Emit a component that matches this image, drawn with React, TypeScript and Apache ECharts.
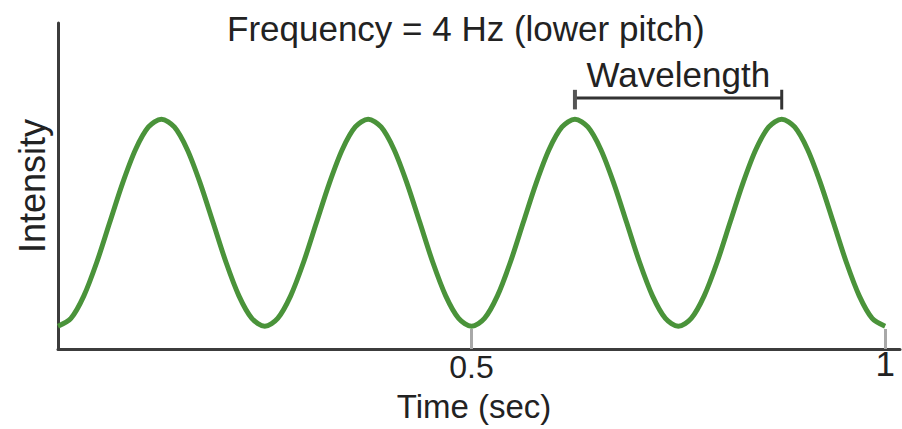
import React, { useEffect, useRef } from "react";
import * as echarts from "echarts";

const FONT = "'Liberation Sans', Arial, sans-serif";

const titleText = "Frequency = 4 Hz (lower pitch)";
const xAxisName = "Time (sec)";
const yAxisName = "Intensity";
const annotationText = "Wavelength";

const times = [
  0, 0.015625, 0.03125, 0.046875, 0.0625, 0.078125, 0.09375, 0.109375,
  0.125, 0.140625, 0.15625, 0.171875, 0.1875, 0.203125, 0.21875, 0.234375,
  0.25, 0.265625, 0.28125, 0.296875, 0.3125, 0.328125, 0.34375, 0.359375,
  0.375, 0.390625, 0.40625, 0.421875, 0.4375, 0.453125, 0.46875, 0.484375,
  0.5, 0.515625, 0.53125, 0.546875, 0.5625, 0.578125, 0.59375, 0.609375,
  0.625, 0.640625, 0.65625, 0.671875, 0.6875, 0.703125, 0.71875, 0.734375,
  0.75, 0.765625, 0.78125, 0.796875, 0.8125, 0.828125, 0.84375, 0.859375,
  0.875, 0.890625, 0.90625, 0.921875, 0.9375, 0.953125, 0.96875, 0.984375,
  1,
];
const intensity = [
  7, 9.4, 16.3, 26.6, 38.8, 50.9, 61.2, 68.1,
  70.5, 68.1, 61.2, 50.9, 38.8, 26.6, 16.3, 9.4,
  7, 9.4, 16.3, 26.6, 38.8, 50.9, 61.2, 68.1,
  70.5, 68.1, 61.2, 50.9, 38.8, 26.6, 16.3, 9.4,
  7, 9.4, 16.3, 26.6, 38.8, 50.9, 61.2, 68.1,
  70.5, 68.1, 61.2, 50.9, 38.8, 26.6, 16.3, 9.4,
  7, 9.4, 16.3, 26.6, 38.8, 50.9, 61.2, 68.1,
  70.5, 68.1, 61.2, 50.9, 38.8, 26.6, 16.3, 9.4,
  7,
];

const xTickValues = [0.5, 1];
const wavelengthStart = 0.625;
const wavelengthEnd = 0.875;
const bracketLevel = 77;
const bracketTop = 79.5;
const bracketBottom = 73.5;

export default function App() {
  const ref = useRef<HTMLDivElement>(null);
  useEffect(() => {
    if (!ref.current) return;
    const chart = echarts.init(ref.current, null, { renderer: "svg" });
    const waveData = times.map((t, i) => [t, intensity[i]]);
    const bracketColor = "#333";
    chart.setOption({
      animation: false,
      backgroundColor: "#ffffff",
      title: {
        text: titleText,
        left: 222,
        top: 6,
        textStyle: { fontSize: 35, fontWeight: "normal", color: "#222", fontFamily: FONT },
      },
      grid: { left: 58, top: 23, right: 2, bottom: 80, containLabel: false, outerBoundsMode: "none" },
      xAxis: {
        type: "value",
        min: 0,
        max: 1.018,
        name: xAxisName,
        nameLocation: "middle",
        nameGap: 42,
        nameMoveOverlap: false,
        nameTextStyle: {
          fontSize: 33,
          lineHeight: 30,
          color: "#222",
          fontFamily: FONT,
          padding: [0, 10, 0, 0],
        },
        axisLine: { show: true, onZero: false, lineStyle: { color: "#3c3c3c", width: 3 } },
        axisTick: {
          show: true,
          inside: true,
          length: 20,
          customValues: xTickValues,
          lineStyle: { color: "#a8a8a8", width: 3 },
        },
        axisLabel: {
          show: true,
          customValues: xTickValues,
          margin: 5,
          formatter: (v: number) => (v === 1 ? "{one|1}" : "{half|0.5}"),
          rich: {
            half: { fontSize: 32, lineHeight: 26, color: "#222", fontFamily: FONT },
            one: { fontSize: 35, lineHeight: 18, color: "#222", fontFamily: FONT },
          },
        },
        splitLine: { show: false },
      },
      yAxis: {
        type: "value",
        min: 0,
        max: 100,
        name: yAxisName,
        nameLocation: "middle",
        nameGap: 8,
        nameMoveOverlap: false,
        nameTextStyle: { fontSize: 36, color: "#222", fontFamily: FONT },
        axisLine: { show: true, lineStyle: { color: "#3c3c3c", width: 3 } },
        axisTick: { show: false },
        axisLabel: { show: false },
        splitLine: { show: false },
      },
      series: [
        {
          type: "line",
          data: waveData,
          smooth: 0.3,
          showSymbol: false,
          lineStyle: { color: "#4a933a", width: 5 },
          z: 3,
        },
        {
          type: "line",
          data: [
            [wavelengthStart, bracketLevel],
            [wavelengthEnd, bracketLevel],
          ],
          showSymbol: false,
          lineStyle: { color: bracketColor, width: 3 },
          z: 4,
        },
        {
          type: "line",
          data: [
            [wavelengthStart, bracketTop],
            [wavelengthStart, bracketBottom],
          ],
          showSymbol: false,
          lineStyle: { color: "#555", width: 4 },
          z: 4,
        },
        {
          type: "line",
          data: [
            [wavelengthEnd, bracketTop],
            [wavelengthEnd, bracketBottom],
          ],
          showSymbol: false,
          lineStyle: { color: bracketColor, width: 3 },
          z: 4,
        },
        {
          type: "scatter",
          data: [[(wavelengthStart + wavelengthEnd) / 2, bracketLevel]],
          symbolSize: 0,
          itemStyle: { opacity: 1, color: "#222" },
          label: {
            show: true,
            position: "top",
            distance: 6,
            formatter: annotationText,
            fontSize: 35,
            color: "#222",
            opacity: 1,
            fontFamily: FONT,
          },
          z: 5,
        },
      ],
    });
    return () => chart.dispose();
  }, []);
  return (
    <div
      ref={ref}
      style={{ position: "fixed", left: 0, top: 0, width: 902, height: 429, background: "#fff" }}
    />
  );
}
